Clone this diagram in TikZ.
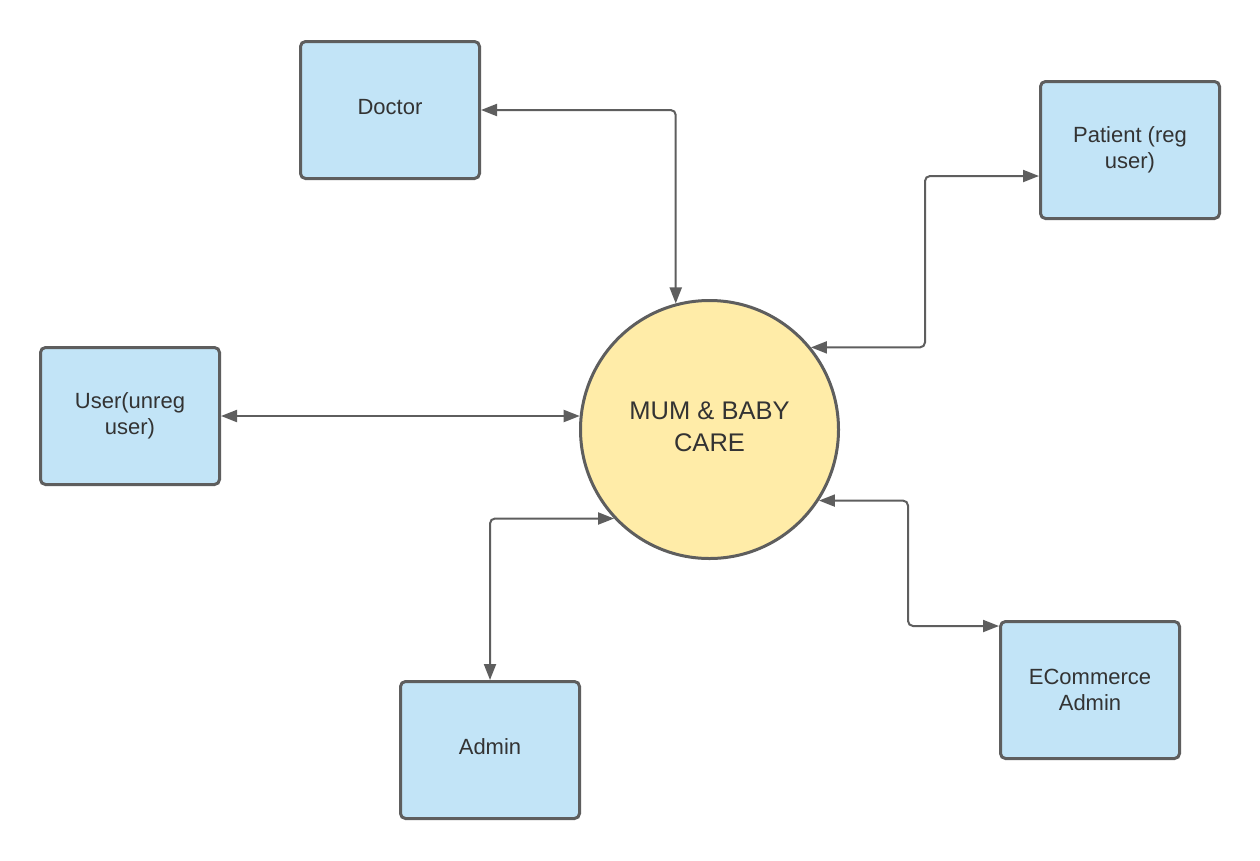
\documentclass[tikz,border=0pt]{standalone}
\usepackage{fontspec}
\setmainfont{Liberation Sans}
\usetikzlibrary{arrows.meta}
\definecolor{boxfill}{RGB}{194,228,247}
\definecolor{circfill}{RGB}{255,236,168}
\definecolor{edgecol}{RGB}{94,94,94}
\definecolor{txtcol}{RGB}{51,51,51}
\begin{document}
\begin{tikzpicture}[x=1pt,y=-1pt,
  entity/.style={draw=edgecol, fill=boxfill, line width=3pt, rounded corners=5pt,
    minimum width=179pt, minimum height=137pt, inner sep=0pt, align=center,
    text=txtcol, font=\fontsize{22}{26}\selectfont},
  oneline/.style={text depth=6pt},
  sysnode/.style={circle, draw=edgecol, fill=circfill, line width=3pt,
    minimum size=258pt, inner sep=0pt, align=center, text=txtcol,
    text depth=6pt, font=\fontsize{25.5}{32}\selectfont},
  conn/.style={draw=edgecol, line width=2pt, rounded corners=5pt,
    {Triangle[length=16pt,width=12pt]}-{Triangle[length=16pt,width=12pt]}}]
\fill[white] (0,0) rectangle (1260,860);
\useasboundingbox (0,0) rectangle (1260,860);

\node[entity, oneline] (doc) at (390,110) {Doctor};
\node[entity] (pat) at (1130,150) {Patient (reg\\user)};
\node[entity] (usr) at (130,416) {User(unreg\\user)};
\node[entity, oneline] (adm) at (490,750) {Admin};
\node[entity] (eco) at (1090,690) {ECommerce\\Admin};
\node[sysnode] (sys) at (709.5,429.5) {MUM \& BABY\\CARE};

\coordinate (patc) at (925,176);
\coordinate (ecoc) at (908,626);

\draw[conn] (doc.east) -| (sys.105.6);
\draw[conn] (sys.39.8) -| (patc) -- ([yshift=-26pt]pat.west);
\draw[conn] (usr.east) -- (usr.east -| sys.174.1);
\draw[conn] (adm.north) |- (sys.223.9);
\draw[conn] (sys.-33.6) -| (ecoc) -- ([yshift=64pt]eco.west);
\end{tikzpicture}
\end{document}
